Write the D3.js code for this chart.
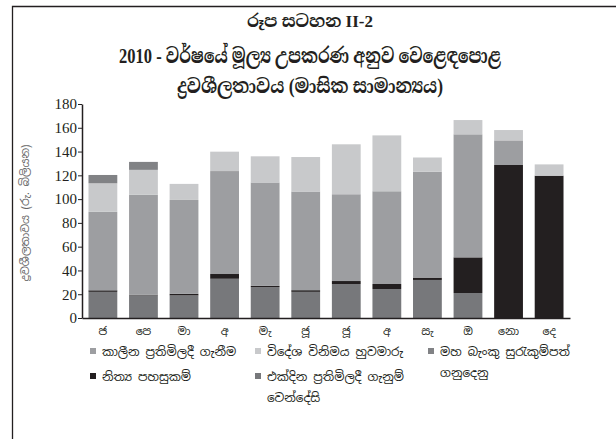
<!DOCTYPE html>
<html><head><meta charset="utf-8">
<script src="https://cdn.jsdelivr.net/npm/d3@7"></script>
<style>
body{margin:0;background:#fff;}
text{font-family:"Noto Sans Sinhala","Noto Serif Sinhala","Iskoola Pota","Noto Sans",sans-serif;}
</style></head>
<body>
<svg id="c" width="616" height="439"></svg>
<script>
const months = ["ජ","පෙ","මා","අ","මැ","ජූ","ජූ","අ","සැ","ඔ","නො","දෙ"];
const overnight = [22,19,19,33,26,22,28.6,24.4,32,21,0,0];
const standing = [1.3,0.6,1.3,4,1,1.4,2.5,4.2,2,30,128.7,119.7];
const termRepo = [66,84,79,86.6,87,83,73,78,89,103.5,20.7,0];
const fxSwap = [24,21,13.5,16.3,22,29,42,47,12,12,8.7,9.5];
const cbSec = [7,6.7,0,0,0,0,0,0,0,0,0,0];
const yTicks = [0,20,40,60,80,100,120,140,160,180];

const seriesNames = {
  overnight:"එක්දින ප්‍රතිමිලදී ගැනුම් වෙන්දේසි",
  standing:"නිත්‍ය පහසුකම්",
  termRepo:"කාලීන ප්‍රතිමිලදී ගැනීම",
  fxSwap:"විදේශ විනිමය හුවමාරු",
  cbSec:"මහ බැංකු සුරැකුම්පත් ගනුදෙනු"
};
const colors = {overnight:"#77787b",standing:"#231f20",termRepo:"#9d9ea1",fxSwap:"#c8c9cb",cbSec:"#818285"};
const keys = ["overnight","standing","termRepo","fxSwap","cbSec"];
const arrays = {overnight,standing,termRepo,fxSwap,cbSec};
const rows = months.map((m,i)=>{const r={i,m};keys.forEach(k=>r[k]=arrays[k][i]);return r;});

const svg = d3.select("#c");
svg.append("path").attr("d","M12.5,440 L12.5,6.5 L620,6.5").attr("fill","none").attr("stroke","#231f20").attr("stroke-width",1.3);

const tf = "'Liberation Serif','Noto Serif Sinhala','Noto Sans Sinhala',serif";
svg.append("text").attr("x",310).attr("y",27).attr("text-anchor","middle").attr("font-size",17).attr("font-weight","bold").style("font-family",tf).attr("fill","#231f20").text("රූප සටහන II-2");
svg.append("text").attr("x",310).attr("y",63).attr("text-anchor","middle").attr("font-size",21).attr("font-weight","bold").style("font-family",tf).attr("fill","#231f20")
  .attr("textLength",382).attr("lengthAdjust","spacingAndGlyphs").text("2010 - වර්ෂයේ මූල්‍ය උපකරණ අනුව වෙළෙඳපොළ");
svg.append("text").attr("x",310).attr("y",93).attr("text-anchor","middle").attr("font-size",20).attr("font-weight","bold").style("font-family",tf).attr("fill","#231f20")
  .attr("textLength",266).attr("lengthAdjust","spacingAndGlyphs").text("ද්‍රවශීලතාවය  (මාසික සාමාන්‍යය)");

const x = d3.scaleBand().domain(d3.range(12)).range([82,570]).paddingInner(0.29).paddingOuter(0.16);
const y = d3.scaleLinear().domain([0,180]).range([318,104]);

const stack = d3.stack().keys(keys)(rows);
svg.append("g").selectAll("g").data(stack).join("g").attr("fill",d=>colors[d.key])
  .selectAll("rect").data(d=>d).join("rect")
  .attr("x",d=>x(d.data.i)).attr("width",x.bandwidth())
  .attr("y",d=>y(d[1])).attr("height",d=>Math.max(0,y(d[0])-y(d[1])));

const ya = svg.append("g").attr("transform","translate(82,0)")
  .call(d3.axisLeft(y).tickValues(yTicks).tickSize(4).tickSizeOuter(0));
ya.attr("font-family",null);
ya.select(".domain").attr("stroke","#231f20").attr("stroke-width",1.5);
ya.selectAll(".tick line").attr("stroke","#231f20");
ya.selectAll(".tick text").style("font-family","'Liberation Serif','Times New Roman',serif").attr("font-size",15).attr("fill","#231f20").attr("x",-5);

const xa = svg.append("g").attr("transform","translate(0,318)")
  .call(d3.axisBottom(x).tickFormat(i=>months[i]).tickSize(0).tickSizeOuter(0));
xa.attr("font-family",null);
xa.select(".domain").attr("stroke","#231f20").attr("stroke-width",1.5);
xa.selectAll(".tick text").attr("font-size",11).attr("fill","#231f20").attr("dy","1.3em");

svg.append("text").attr("transform","translate(29,213) rotate(-90)").attr("text-anchor","middle")
  .attr("font-size",11).attr("fill","#666").text("ද්‍රවශීලතාවය (රු. බිලියන)");

const legend = [
  {k:"termRepo",x:90,y:352,lines:["කාලීන ප්‍රතිමිලදී ගැනීම"]},
  {k:"fxSwap",x:255,y:352,lines:["විදේශ විනිමය හුවමාරු"]},
  {k:"cbSec",x:428,y:352,lines:["මහ බැංකු සුරැකුම්පත්","ගනුදෙනු"]},
  {k:"standing",x:90,y:377,lines:["නිත්‍ය පහසුකම්"]},
  {k:"overnight",x:255,y:377,lines:["එක්දින ප්‍රතිමිලදී ගැනුම්","වෙන්දේසි"]}
];
const lg = svg.append("g");
legend.forEach(l=>{
  lg.append("rect").attr("x",l.x).attr("y",l.y-4).attr("width",6).attr("height",6).attr("fill",colors[l.k]);
  l.lines.forEach((t,j)=>{
    lg.append("text").attr("x",l.x+12).attr("y",l.y+4+j*21).attr("font-size",12).attr("fill","#231f20").text(t);
  });
});
</script>
</body></html>
